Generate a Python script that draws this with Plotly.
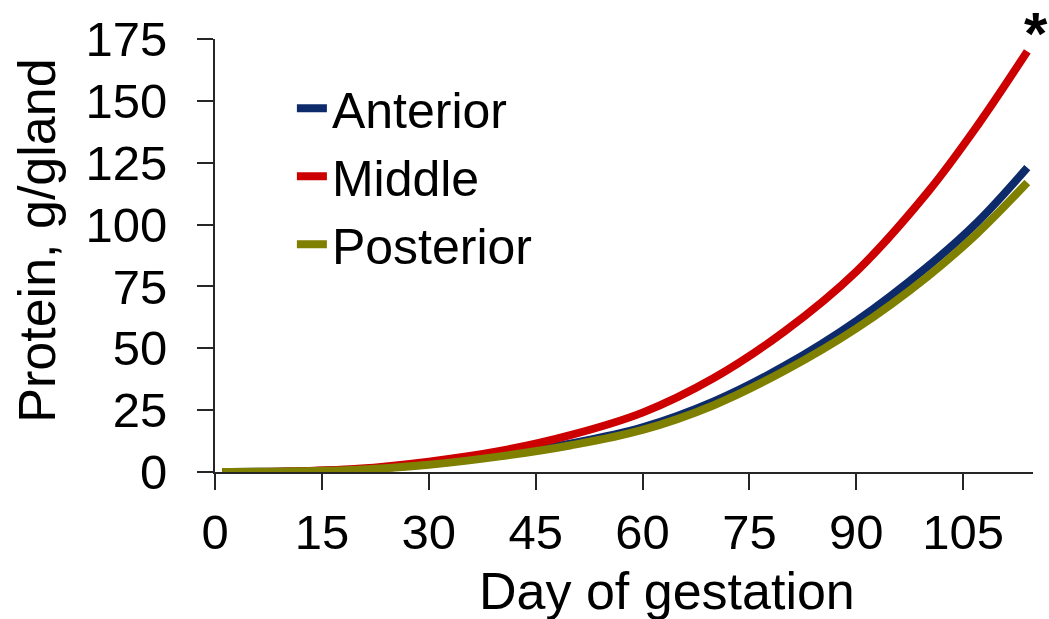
import plotly.graph_objects as go

# Day of gestation sampled along each fitted curve
days = [1, 10, 20, 30, 40, 50, 60, 70, 80, 90, 100, 107, 114]

# Protein content (g/gland) per gland region
anterior = [0, 0.2, 1.0, 3.2, 6.8, 11.5, 18, 28.5, 43, 61, 83, 101, 123]
middle = [0, 0.2, 1.3, 4.2, 8.5, 15, 24, 38, 57, 81, 113, 140, 170]
posterior = [0, 0.2, 0.9, 2.9, 6.3, 10.8, 17, 27, 41, 58, 79, 96.5, 117]

series_names = ["Anterior", "Middle", "Posterior"]
series_values = [anterior, middle, posterior]
series_colors = ["#0d2b6b", "#cc0000", "#7f7f00"]

x_ticks = [0, 15, 30, 45, 60, 75, 90, 105]
y_ticks = [0, 25, 50, 75, 100, 125, 150, 175]

FONT = "Arial, Liberation Sans, sans-serif"
AXIS_COLOR = "#262626"

fig = go.Figure()
for name, vals, color in zip(series_names, series_values, series_colors):
    fig.add_trace(go.Scatter(
        x=days, y=vals, name=name, mode="lines",
        line=dict(color=color, width=8, shape="spline", smoothing=1.0),
    ))

fig.update_layout(
    width=1049, height=619,
    margin=dict(l=215, r=16, t=34, b=147),
    paper_bgcolor="white", plot_bgcolor="white",
    font=dict(family=FONT, color="black"),
    showlegend=True,
    legend=dict(
        x=0.094, y=0.93, xanchor="left", yanchor="top",
        font=dict(size=50, family=FONT, color="black"),
        bgcolor="rgba(0,0,0,0)", tracegroupgap=0,
    ),
    xaxis=dict(
        range=[0, 114.8], tickvals=x_ticks, ticktext=[str(v) for v in x_ticks],
        showgrid=False, zeroline=False, showline=True,
        linecolor=AXIS_COLOR, linewidth=2,
        ticks="outside", ticklen=16, tickwidth=2, tickcolor=AXIS_COLOR,
        tickfont=dict(size=49, family=FONT, color="black"),
        ticklabelstandoff=0,
    ),
    yaxis=dict(
        range=[0, 175], tickvals=y_ticks, ticktext=[str(v) for v in y_ticks],
        showgrid=False, zeroline=False, showline=True,
        linecolor=AXIS_COLOR, linewidth=2,
        ticks="outside", ticklen=16, tickwidth=2, tickcolor=AXIS_COLOR,
        tickfont=dict(size=49, family=FONT, color="black"),
        ticklabelstandoff=20,
    ),
    annotations=[
        dict(text="Day of gestation", xref="paper", yref="paper",
             x=(667 - 215) / 818, y=-(592 - 472) / 438,
             xanchor="center", yanchor="middle", showarrow=False,
             font=dict(size=52, family=FONT, color="black")),
        dict(text="Protein, g/gland", xref="paper", yref="paper",
             x=-(215 - 37) / 818, y=(472 - 238) / 438, textangle=-90,
             xanchor="center", yanchor="middle", showarrow=False,
             font=dict(size=52, family=FONT, color="black")),
        dict(text="<b>*</b>", xref="paper", yref="paper",
             x=(1036 - 215) / 818, y=1 - (28 - 34) / 438,
             xanchor="center", yanchor="middle", showarrow=False,
             font=dict(size=60, family=FONT, color="black")),
    ],
)

fig.write_html("out.html")
